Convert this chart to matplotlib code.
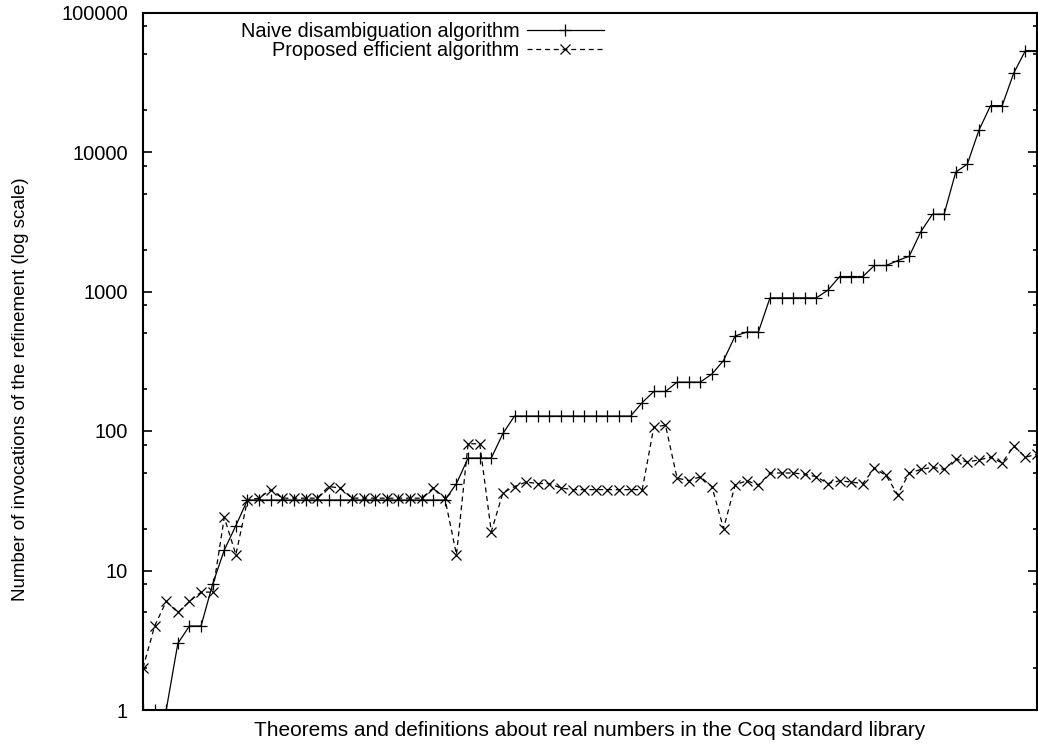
import matplotlib
matplotlib.use('Agg')
import matplotlib.pyplot as plt
from matplotlib.ticker import LogLocator, NullFormatter, FixedLocator

plt.rcParams['font.family'] = ['Liberation Sans', 'DejaVu Sans']

# one entry per theorem / definition (x is just the index)
naive = [1, 1, 1, 3, 4, 4, 8, 14, 21,
         32, 32, 32, 32, 32, 32, 32, 32, 32, 32, 32, 32, 32, 32, 32, 32, 32, 32,
         42, 64, 64, 64, 96,
         128, 128, 128, 128, 128, 128, 128, 128, 128, 128, 128,
         160, 192, 192, 224, 224, 224, 256, 320, 480, 512, 512,
         900, 900, 900, 900, 900, 1024, 1280, 1280, 1280, 1536, 1536, 1664, 1792,
         2688, 3584, 3584, 7168, 8192, 14336, 21504, 21504, 36864, 53248, 53248]

efficient = [2, 4, 6, 5, 6, 7, 7, 24, 13,
             32, 33, 38, 33, 33, 33, 33, 40, 39, 33, 33, 33, 33, 33, 33, 33, 39, 33,
             13, 81, 81, 19, 36,
             40, 43, 42, 42, 39, 38, 38, 38, 38, 38, 38,
             38, 107, 110, 46, 44, 47, 40, 20, 41, 44, 41,
             50, 50, 50, 49, 47, 42, 44, 43, 42, 54, 48, 35, 50,
             53, 55, 53, 63, 60, 62, 65, 59, 78, 65, 68]

naive_label = 'Naive disambiguation algorithm'
eff_label = 'Proposed efficient algorithm'
yticks = [1, 10, 100, 1000, 10000, 100000]

x = list(range(len(naive)))

fig = plt.figure(figsize=(10.38, 7.46), dpi=100)
ax = fig.add_axes([143/1038, 1 - 710/746, (1037 - 143)/1038, (710 - 12.5)/746])

ax.plot(x, naive, '-', color='black', lw=0.9, marker='+', ms=9, mew=0.9,
        label=naive_label)
ax.plot(x, efficient, color='black', lw=0.9, ls=(0, (4, 3)), marker='x', ms=7,
        mew=0.9, label=eff_label)

ax.set_yscale('log')
ax.set_ylim(1, 100000)
ax.set_xlim(0, len(naive) - 1)

ax.yaxis.set_major_locator(FixedLocator(yticks))
ax.set_yticklabels([str(t) for t in yticks])
ax.yaxis.set_minor_locator(LogLocator(base=10, subs=[2, 5, 8], numticks=20))
ax.yaxis.set_minor_formatter(NullFormatter())
ax.tick_params(axis='y', which='major', direction='in', length=6.5, width=1.2,
               left=True, right=True, labelsize=14.5, pad=10.8)
ax.tick_params(axis='y', which='minor', direction='in', length=3.2, width=1.2,
               left=True, right=True)
ax.set_xticks([])

for s in ax.spines.values():
    s.set_linewidth(1.5)

ax.set_xlabel('Theorems and definitions about real numbers in the Coq standard library',
              fontsize=15)
ax.xaxis.set_label_coords(0.5, -0.016)
ax.set_ylabel('Number of invocations of the refinement (log scale)', fontsize=13.5)
ax.yaxis.set_label_coords(-0.128, 0.46)

leg = ax.legend(loc='upper right', bbox_to_anchor=(604/1038, 1 - 22/746),
                bbox_transform=fig.transFigure, frameon=False, markerfirst=False,
                fontsize=14.3, handlelength=3.9, handletextpad=0.35,
                labelspacing=0.0, borderpad=0, borderaxespad=0)

plt.savefig('out.png', dpi=100)
